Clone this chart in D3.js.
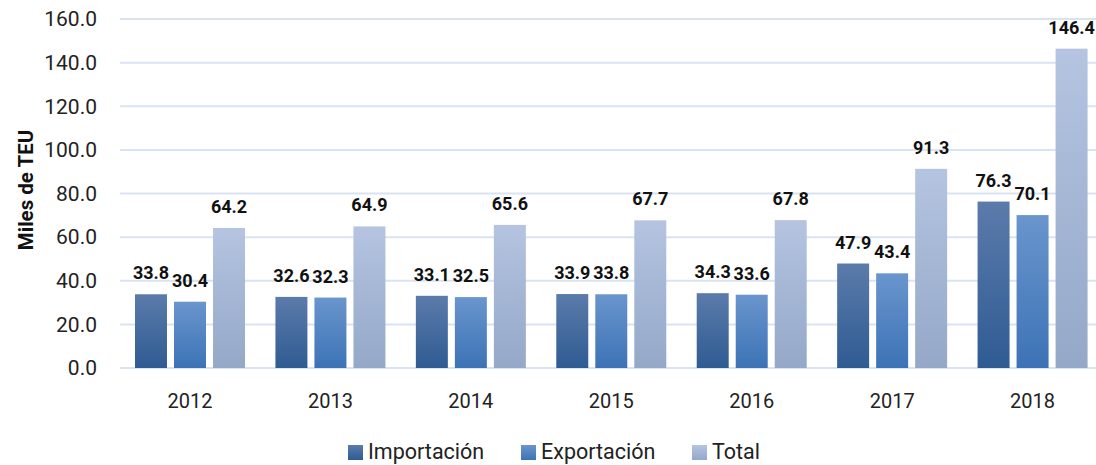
<!DOCTYPE html>
<html lang="es">
<head>
<meta charset="UTF-8">
<title>Miles de TEU</title>
<script src="https://d3js.org/d3.v7.min.js"></script>
<style>
  body { margin: 0; background: #fff; }
  svg text { font-family: Roboto, "Liberation Sans", sans-serif; }
  .tick-label { font-size: 21px; fill: #222; }
  .x-label { font-size: 20px; fill: #222; }
  .bar-label { font-size: 18px; font-weight: bold; fill: #111; }
  .legend-label { font-size: 21.5px; fill: #222; }
</style>
</head>
<body>
<script>
const years = ["2012", "2013", "2014", "2015", "2016", "2017", "2018"];
const importacion = [33.8, 32.6, 33.1, 33.9, 34.3, 47.9, 76.3];
const exportacion = [30.4, 32.3, 32.5, 33.8, 33.6, 43.4, 70.1];
const total = [64.2, 64.9, 65.6, 67.7, 67.8, 91.3, 146.4];
const yTicks = [0, 20, 40, 60, 80, 100, 120, 140, 160];
const seriesNames = ["Importación", "Exportación", "Total"];

const width = 1096, height = 465;
const gradients = [
  ["#5b7baa", "#2f5b93"],
  ["#6a95cd", "#3c73b6"],
  ["#b4c4e1", "#95a8c8"]
];

const svg = d3.select("body").append("svg")
  .attr("width", width).attr("height", height);

const defs = svg.append("defs");
gradients.forEach((g, i) => {
  const lg = defs.append("linearGradient")
    .attr("id", "grad" + i)
    .attr("x1", 0).attr("y1", 0).attr("x2", 0).attr("y2", 1);
  lg.append("stop").attr("offset", "0%").attr("stop-color", g[0]);
  lg.append("stop").attr("offset", "100%").attr("stop-color", g[1]);
});

const y = d3.scaleLinear().domain([0, 160]).range([368, 19]);
const x = d3.scaleBand().domain(years).range([120, 1103]);
const xs = d3.scaleBand().domain(d3.range(3)).range([15, 125]).paddingInner(0.18);

// gridlines
svg.append("g").selectAll("line")
  .data(yTicks).enter().append("line")
  .attr("x1", 120).attr("x2", width)
  .attr("y1", d => y(d)).attr("y2", d => y(d))
  .attr("stroke", "#d9e3f3").attr("stroke-width", 2);

// y tick labels
svg.append("g").selectAll("text")
  .data(yTicks).enter().append("text")
  .attr("class", "tick-label")
  .attr("x", 97).attr("y", d => y(d))
  .attr("dy", "0.35em")
  .attr("text-anchor", "end")
  .text(d => d3.format(".1f")(d));

// y title
svg.append("text")
  .attr("transform", "translate(33,190) rotate(-90)")
  .attr("text-anchor", "middle")
  .style("font-size", "20.5px").style("font-weight", "bold").style("fill", "#111")
  .text("Miles de TEU");

// x labels
svg.append("g").selectAll("text")
  .data(years).enter().append("text")
  .attr("class", "x-label")
  .attr("x", d => x(d) + xs.range()[0] + (xs.range()[1] - xs.range()[0]) / 2)
  .attr("y", 408)
  .attr("text-anchor", "middle")
  .text(d => d);

const series = [importacion, exportacion, total];
series.forEach((vals, si) => {
  const g = svg.append("g");
  g.selectAll("rect")
    .data(vals).enter().append("rect")
    .attr("x", (d, i) => x(years[i]) + xs(si))
    .attr("width", xs.bandwidth())
    .attr("y", d => y(d))
    .attr("height", d => y(0) - y(d))
    .attr("fill", "url(#grad" + si + ")");
  g.selectAll("text")
    .data(vals).enter().append("text")
    .attr("class", "bar-label")
    .attr("x", (d, i) => x(years[i]) + xs(si) + xs.bandwidth() / 2)
    .attr("y", d => y(d) - 15)
    .attr("text-anchor", "middle")
    .text(d => d3.format(".1f")(d));
});

// legend
const legendX = [348, 521, 692];
const legend = svg.append("g");
seriesNames.forEach((name, i) => {
  legend.append("rect")
    .attr("x", legendX[i]).attr("y", 445)
    .attr("width", 15).attr("height", 15)
    .attr("fill", "url(#grad" + i + ")");
  legend.append("text")
    .attr("class", "legend-label")
    .attr("x", legendX[i] + 20).attr("y", 459)
    .text(name);
});
</script>
</body>
</html>
